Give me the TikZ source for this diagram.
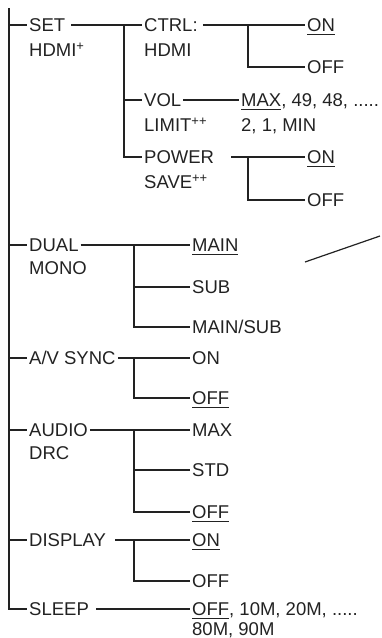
\documentclass[tikz,border=0pt]{standalone}
\usepackage{fontspec}
\setmainfont{Liberation Sans}
\usepackage{tikz}
\usetikzlibrary{calc}
\definecolor{ink}{HTML}{222222}
\newcommand{\dflt}[1]{\setbox0\hbox{#1}\rlap{\rule[-3.4pt]{\wd0}{1.2pt}}\box0}

\begin{document}
\begin{tikzpicture}[
  x=1pt,y=-1pt,
  every node/.style={font=\fontsize{18.5}{22}\selectfont,text=ink},
  item/.style={anchor=west,inner xsep=2pt,inner ysep=0pt,text height=13.2pt,text depth=0pt},
  line/.style={line width=1.2pt,color=ink}
]
\useasboundingbox (0,0) rectangle (381,638);
\coordinate (top) at (9,8);
% first level
\node[item] (set) at (27,25) {SET};
\node[item] (sethdmi) at (27,50) {HDMI\textsuperscript{+}};
\node[item] (dual) at (27,245) {DUAL};
\node[item] (mono) at (27,268) {MONO};
\node[item] (avsync) at (27,358) {A/V SYNC};
\node[item] (audio) at (27,430) {AUDIO};
\node[item] (drc) at (27,453) {DRC};
\node[item] (display) at (27,540) {DISPLAY};
\node[item] (sleep) at (27,609) {SLEEP};
% set hdmi
\node[item] (ctrl) at (142,25) {CTRL:};
\node[item] (ctrlhdmi) at (142,50) {HDMI};
\node[item] (vol) at (142,100) {VOL};
\node[item] (limit) at (142,125) {LIMIT\textsuperscript{++}};
\node[item] (power) at (142,157) {POWER};
\node[item] (save) at (142,182) {SAVE\textsuperscript{++}};
\node[item] (ctrlon) at (305,25) {\dflt{ON}};
\node[item] (ctrloff) at (305,67) {OFF};
\node[item] (volmax) at (239,100) {\dflt{MAX}, 49, 48, .....};
\node[item] (volmin) at (239,125) {2, 1, MIN};
\node[item] (poweron) at (305,157) {\dflt{ON}};
\node[item] (poweroff) at (305,200) {OFF};
% values
\node[item] (main) at (190,245) {\dflt{MAIN}};
\node[item] (sub) at (190,287) {SUB};
\node[item] (mainsub) at (190,327) {MAIN/SUB};
\node[item] (avon) at (190,358) {ON};
\node[item] (avoff) at (190,398) {\dflt{OFF}};
\node[item] (drcmax) at (190,430) {MAX};
\node[item] (drcstd) at (190,470) {STD};
\node[item] (drcoff) at (190,512) {\dflt{OFF}};
\node[item] (dispon) at (190,540) {\dflt{ON}};
\node[item] (dispoff) at (190,581) {OFF};
\node[item] (sleepoff) at (190,609) {\dflt{OFF}, 10M, 20M, .....};
\node[item] (sleepmax) at (190,629) {80M, 90M};

\coordinate (setj) at (124,25);
\coordinate (ctrlj) at (248,25);
\coordinate (powerj) at (248,157);
\coordinate (dualj) at (134,245);
\coordinate (avj) at (134,358);
\coordinate (drcj) at (134,430);
\coordinate (dispj) at (134,540);
\coordinate (pa) at (305,262);
\coordinate (pb) at (380,236);

\draw[line] (top) |- (sleep);
\foreach \n in {set,dual,avsync,audio,display}
  \draw[line] (top |- \n) -- (\n);
\draw[line,shorten <=4pt] (set) -- (ctrl);
\draw[line] (setj) |- (vol);
\draw[line] (setj) |- (power);
\draw[line,shorten <=3pt] (ctrl) -- (ctrlon);
\draw[line] (ctrlj) |- (ctrloff);
\draw[line] (vol) -- (volmax);
\draw[line,shorten <=15pt] (power) -- (poweron);
\draw[line] (powerj) |- (poweroff);
\draw[line] (dual) -- (main);
\draw[line] (dualj) |- (sub);
\draw[line] (dualj) |- (mainsub);
\draw[line] (avsync) -- (avon);
\draw[line] (avj) |- (avoff);
\draw[line] (audio) -- (drcmax);
\draw[line] (drcj) |- (drcstd);
\draw[line] (drcj) |- (drcoff);
\draw[line,shorten <=7pt] (display) -- (dispon);
\draw[line] (dispj) |- (dispoff);
\draw[line,shorten <=5pt] (sleep) -- (sleepoff);
\draw[line] (pa) -- (pb);
\end{tikzpicture}
\end{document}
